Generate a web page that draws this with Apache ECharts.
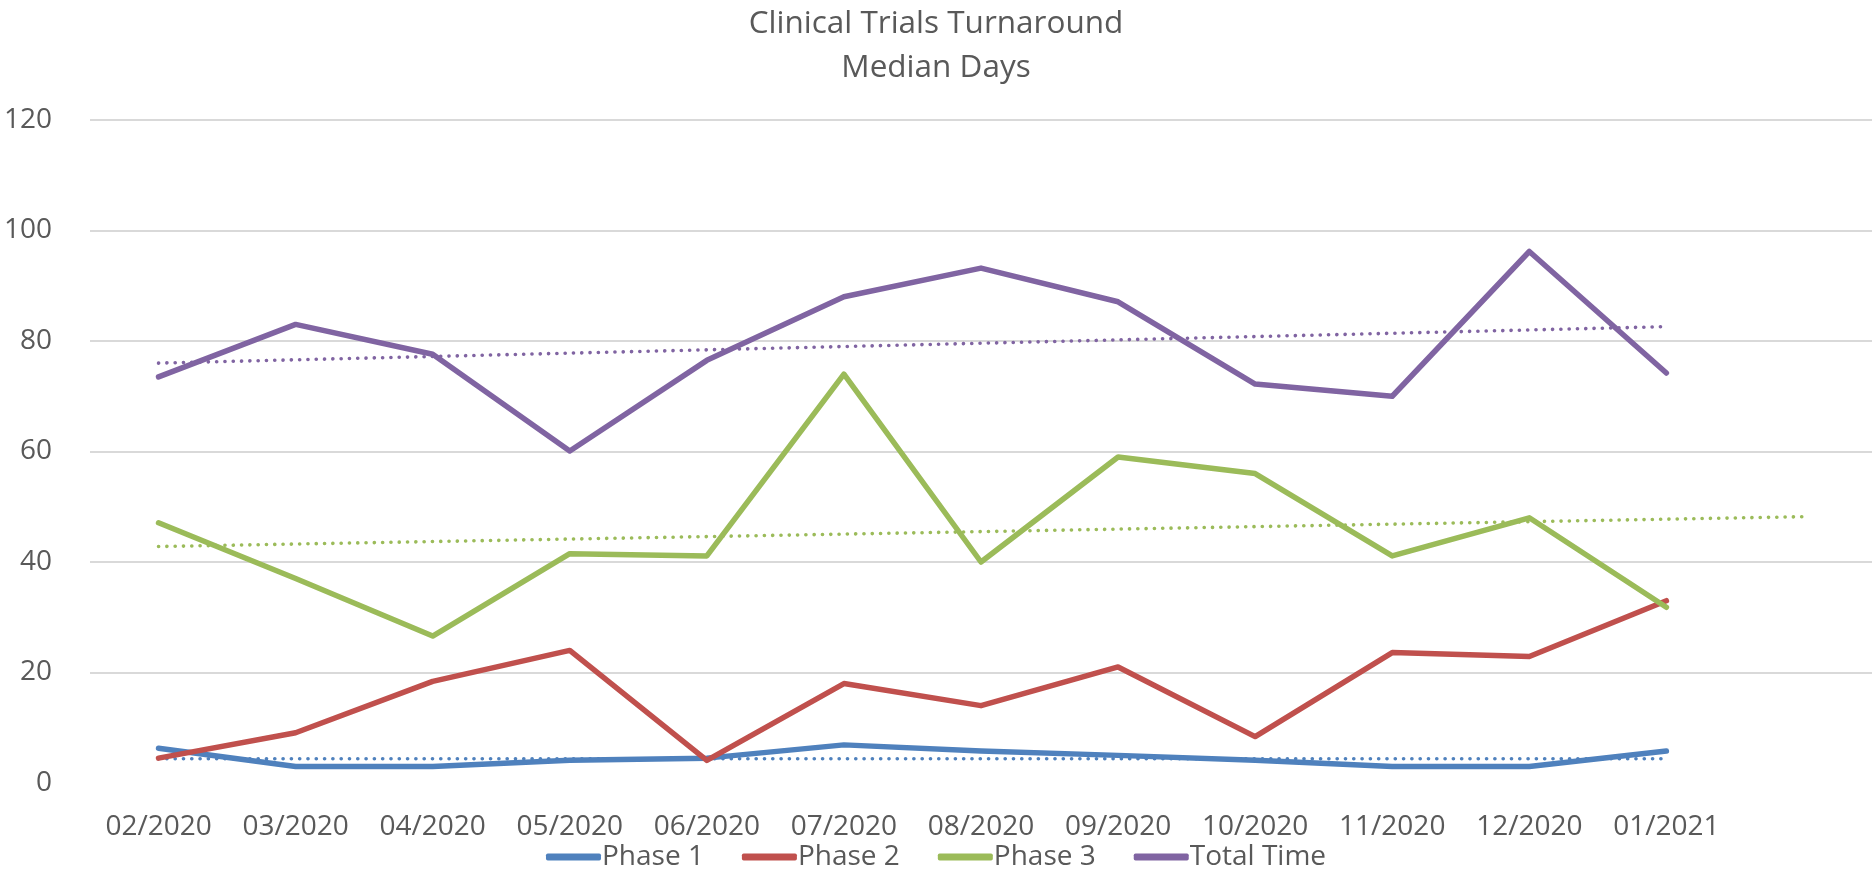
<!DOCTYPE html>
<html>
<head>
<meta charset="utf-8">
<script src="https://cdn.jsdelivr.net/npm/echarts@6/dist/echarts.min.js"></script>
<style>
  html, body { margin: 0; padding: 0; background: #fff; }
  #chart { width: 1872px; height: 872px; }
</style>
</head>
<body>
<div id="chart"></div>
<script>
  // categories (last one is the forecast slot for the trendline, no label)
  const months = ['02/2020', '03/2020', '04/2020', '05/2020', '06/2020', '07/2020',
    '08/2020', '09/2020', '10/2020', '11/2020', '12/2020', '01/2021', ''];

  const phase1 = [6.3, 3, 3, 4.1, 4.5, 6.9, 5.8, 5, 4.1, 3, 3, 5.8];
  const phase2 = [4.5, 9.1, 18.4, 24, 4.1, 18, 14, 21, 8.4, 23.6, 22.9, 33];
  const phase3 = [47.1, 37, 26.6, 41.5, 41.1, 74, 40, 59, 56, 41.1, 48, 31.8];
  const totalTime = [73.5, 83, 77.6, 60.1, 76.5, 88, 93.2, 87.1, 72.2, 70, 96.2, 74.2];

  // trendline ends (joined straight across the gaps)
  const phase1Trend = [4.4, null, null, null, null, null, null, null, null, null, null, 4.4];
  const phase3Trend = [42.8, null, null, null, null, null, null, null, null, null, null, null, 48.2];
  const totalTrend = [76.0, null, null, null, null, null, null, null, null, null, null, 82.6];

  const yTicks = { min: 0, max: 120, interval: 20 };

  const BLUE = '#4f81bd', RED = '#c0504d', GREEN = '#9bbb59', PURPLE = '#8064a2';
  const TEXT = '#595959';
  const FONT = '"Open Sans", sans-serif';

  const mainLine = (name, data, color) => ({
    name: name,
    type: 'line',
    data: data,
    symbol: 'none',
    color: color,
    lineStyle: { color: color, width: 5.5, cap: 'round', join: 'round' },
    z: 3,
  });

  const trendLine = (name, data, color) => ({
    name: name,
    type: 'line',
    data: data,
    symbol: 'none',
    connectNulls: true,
    silent: true,
    lineStyle: { color: color, width: 3.6, type: [0.1, 8.2], cap: 'round' },
    z: 2,
  });

  const chart = echarts.init(document.getElementById('chart'));
  chart.setOption({
    animation: false,
    title: {
      text: 'Clinical Trials Turnaround\nMedian Days',
      left: 'center',
      top: -3,
      textStyle: { color: TEXT, fontFamily: FONT, fontSize: 31.5, fontWeight: 'normal', lineHeight: 44 },
    },
    legend: {
      data: ['Phase 1', 'Phase 2', 'Phase 3', 'Total Time'],
      bottom: -4,
      left: 'center',
      icon: 'roundRect',
      itemWidth: 55,
      itemHeight: 7,
      itemGap: 38,
      textStyle: { color: TEXT, fontFamily: FONT, fontSize: 28, padding: [0, 0, 0, -4] },
    },
    grid: { left: 90, right: 0, top: 120, bottom: 89, containLabel: false },
    xAxis: {
      type: 'category',
      data: months,
      boundaryGap: true,
      axisLine: { show: false },
      axisTick: { show: false },
      axisLabel: { color: TEXT, fontFamily: FONT, fontSize: 28, margin: 30, interval: 0 },
    },
    yAxis: {
      type: 'value',
      min: yTicks.min,
      max: yTicks.max,
      interval: yTicks.interval,
      axisLine: { show: false },
      axisTick: { show: false },
      axisLabel: { color: TEXT, fontFamily: FONT, fontSize: 28, margin: 38 },
      splitLine: { show: true, showMinLine: false, lineStyle: { color: '#d9d9d9', width: 2 } },
    },
    series: [
      trendLine('Phase 1 trend', phase1Trend, BLUE),
      trendLine('Phase 3 trend', phase3Trend, GREEN),
      trendLine('Total Time trend', totalTrend, PURPLE),
      mainLine('Phase 1', phase1, BLUE),
      mainLine('Phase 2', phase2, RED),
      mainLine('Phase 3', phase3, GREEN),
      mainLine('Total Time', totalTime, PURPLE),
    ],
  });
</script>
</body>
</html>
